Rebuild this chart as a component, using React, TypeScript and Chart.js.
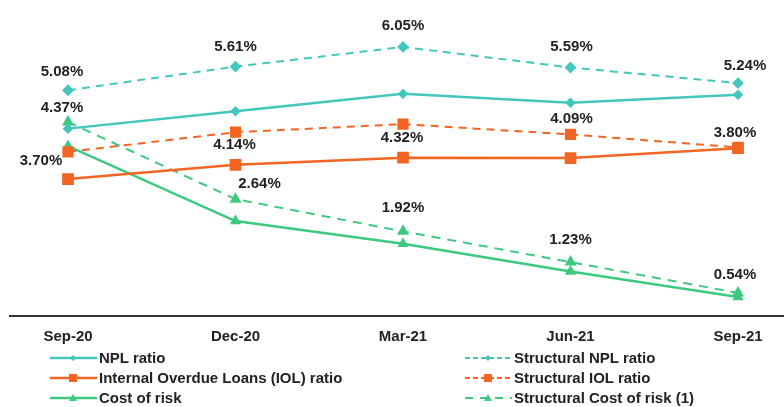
import React, { useEffect, useRef } from "react";
import { Chart, registerables } from "chart.js";

Chart.register(...registerables);

const categories = ["Sep-20", "Dec-20", "Mar-21", "Jun-21", "Sep-21"];
const nplRatio = [4.22, 4.61, 5.0, 4.8, 4.98];
const structuralNplRatio = [5.08, 5.61, 6.05, 5.59, 5.24];
const iolRatio = [3.09, 3.41, 3.57, 3.56, 3.78];
const structuralIolRatio = [3.7, 4.14, 4.32, 4.09, 3.8];
const costOfRisk = [3.83, 2.15, 1.64, 1.02, 0.45];
const structuralCostOfRisk = [4.37, 2.64, 1.92, 1.23, 0.54];

// label placement (text centre relative to the point), styling only
const nplLabelOffsets = [[-6, -18], [0, -20], [0, -21], [1, -21], [7, -17]];
const iolLabelOffsets = [[-27, 9], [-1, 13], [-1, 14], [1, -16], [-3, -15]];
const corLabelOffsets = [[-6, -14], [24, -15], [0, -23], [0, -22], [-3, -18]];

const TEAL = "#43c7bd";
const ORANGE = "#f26522";
const GREEN = "#3dc97f";
const TEXT = "#222222";
const FONT = '"Liberation Sans", Arial, sans-serif';

const fmt = (v: number) => v.toFixed(2) + "%";

const annotatePlugin = {
  id: "annotate",
  beforeDatasetsDraw(chart: any) {
    const ctx = chart.ctx;
    const y0 = chart.scales.y.getPixelForValue(0);
    ctx.save();
    ctx.strokeStyle = "#333333";
    ctx.lineWidth = 2;
    ctx.beginPath();
    ctx.moveTo(9, y0 - 1);
    ctx.lineTo(chart.width, y0 - 1);
    ctx.stroke();
    ctx.restore();
  },
  afterDatasetsDraw(chart: any) {
    const ctx = chart.ctx;
    ctx.save();
    ctx.font = `bold 15px ${FONT}`;
    ctx.fillStyle = TEXT;
    ctx.textAlign = "center";
    ctx.textBaseline = "middle";
    chart.data.datasets.forEach((ds: any, i: number) => {
      const offs = ds.labelOffsets;
      if (!offs) return;
      const meta = chart.getDatasetMeta(i);
      meta.data.forEach((pt: any, j: number) => {
        ctx.fillText(fmt(ds.data[j]), pt.x + offs[j][0], pt.y + offs[j][1]);
      });
    });
    ctx.restore();
  },
};

type Item = { label: string; color: string; dash?: string; marker: "diamond" | "square" | "triangle" };

const legendCol1: Item[] = [
  { label: "NPL ratio", color: TEAL, marker: "diamond" },
  { label: "Internal Overdue Loans (IOL) ratio", color: ORANGE, marker: "square" },
  { label: "Cost of risk", color: GREEN, marker: "triangle" },
];
const legendCol2: Item[] = [
  { label: "Structural NPL ratio", color: TEAL, dash: "5 3", marker: "diamond" },
  { label: "Structural IOL ratio", color: ORANGE, dash: "5 3", marker: "square" },
  { label: "Structural Cost of risk (1)", color: GREEN, dash: "8 7", marker: "triangle" },
];

function Sample({ item }: { item: Item }) {
  const c = 23;
  let m: any;
  if (item.marker === "diamond") {
    m = <polygon points={`${c},3 ${c + 3},6 ${c},9 ${c - 3},6`} fill={item.color} />;
  } else if (item.marker === "square") {
    m = <rect x={c - 4} y={2} width={8} height={8} fill={item.color} />;
  } else {
    m = <polygon points={`${c},2 ${c + 4},9 ${c - 4},9`} fill={item.color} />;
  }
  return (
    <svg width={47} height={12} style={{ display: "block" }}>
      <line x1={0} y1={6} x2={47} y2={6} stroke={item.color} strokeWidth={item.dash ? 2 : 2.5} strokeDasharray={item.dash} />
      {m}
    </svg>
  );
}

function LegendRow({ item, x, y, textX }: { item: Item; x: number; y: number; textX: number }) {
  return (
    <>
      <div style={{ position: "absolute", left: x, top: y - 6 }}>
        <Sample item={item} />
      </div>
      <div
        style={{
          position: "absolute",
          left: textX,
          top: y - 10,
          height: 20,
          lineHeight: "20px",
          fontFamily: FONT,
          fontWeight: "bold",
          fontSize: 15,
          color: TEXT,
          whiteSpace: "nowrap",
        }}
      >
        {item.label}
      </div>
    </>
  );
}

export default function App() {
  const ref = useRef<HTMLCanvasElement | null>(null);

  useEffect(() => {
    if (!ref.current) return;
    const chart = new Chart(ref.current, {
      type: "line",
      data: {
        labels: categories,
        datasets: [
          {
            label: "Structural NPL ratio",
            data: structuralNplRatio,
            borderColor: TEAL,
            backgroundColor: TEAL,
            borderWidth: 2,
            borderDash: [8, 6],
            pointStyle: "rectRot",
            pointRadius: 4.5,
            labelOffsets: nplLabelOffsets,
          } as any,
          {
            label: "NPL ratio",
            data: nplRatio,
            borderColor: TEAL,
            backgroundColor: TEAL,
            borderWidth: 2.5,
            pointStyle: "rectRot",
            pointRadius: 3.5,
          },
          {
            label: "Structural IOL ratio",
            data: structuralIolRatio,
            borderColor: ORANGE,
            backgroundColor: ORANGE,
            borderWidth: 2,
            borderDash: [8, 6],
            pointStyle: "rect",
            pointRadius: 6.5,
            labelOffsets: iolLabelOffsets,
          } as any,
          {
            label: "Internal Overdue Loans (IOL) ratio",
            data: iolRatio,
            borderColor: ORANGE,
            backgroundColor: ORANGE,
            borderWidth: 2.5,
            pointStyle: "rect",
            pointRadius: 6.5,
          },
          {
            label: "Structural Cost of risk (1)",
            data: structuralCostOfRisk,
            borderColor: GREEN,
            backgroundColor: GREEN,
            borderWidth: 2,
            borderDash: [9, 7],
            pointStyle: "triangle",
            pointRadius: 5,
            labelOffsets: corLabelOffsets,
          } as any,
          {
            label: "Cost of risk",
            data: costOfRisk,
            borderColor: GREEN,
            backgroundColor: GREEN,
            borderWidth: 2.5,
            pointStyle: "triangle",
            pointRadius: 4,
          },
        ],
      },
      options: {
        responsive: false,
        animation: false,
        devicePixelRatio: 1,
        layout: { padding: { left: 68, right: 46, top: 3, bottom: 0 } },
        plugins: { legend: { display: false }, tooltip: { enabled: false } },
        elements: { line: { tension: 0 } },
        scales: {
          x: {
            grid: { display: false, drawTicks: false },
            border: { display: false },
            ticks: {
              padding: 11,
              color: TEXT,
              font: { family: FONT, size: 15, weight: "bold" },
              maxRotation: 0,
              autoSkip: false,
            },
            afterFit: (s: any) => {
              s.height = 90;
            },
          },
          y: { display: false, min: 0, max: 6.9 },
        },
      },
      plugins: [annotatePlugin],
    });
    return () => chart.destroy();
  }, []);

  return (
    <div style={{ position: "absolute", left: 0, top: 0, width: 784, height: 407, background: "#fff" }}>
      <canvas ref={ref} width={784} height={407} style={{ position: "absolute", left: 0, top: 0 }} />
      {legendCol1.map((it, i) => (
        <LegendRow key={"a" + i} item={it} x={50} y={358 + i * 20} textX={99} />
      ))}
      {legendCol2.map((it, i) => (
        <LegendRow key={"b" + i} item={it} x={465} y={358 + i * 20} textX={514} />
      ))}
    </div>
  );
}
